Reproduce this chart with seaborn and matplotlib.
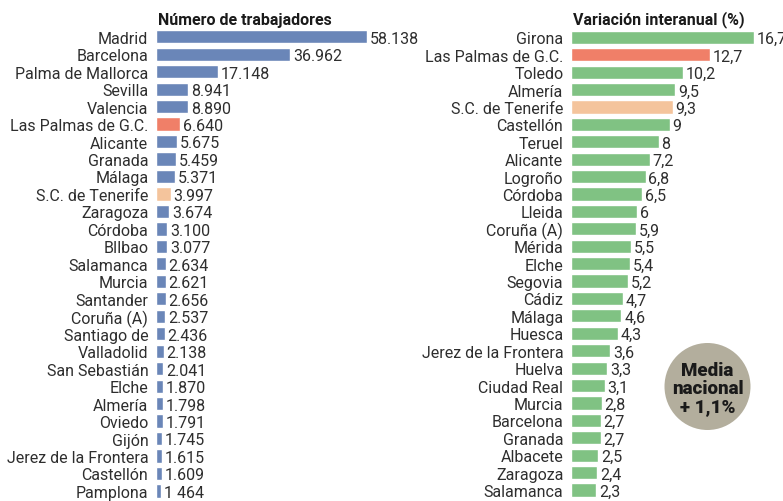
import seaborn as sns
import pandas as pd
import matplotlib.pyplot as plt
from matplotlib.patches import Ellipse

sns.set_style("white")
plt.rcParams['font.family'] = ['Roboto', 'DejaVu Sans']

# Left panel: number of workers
cities_left = ["Madrid", "Barcelona", "Palma de Mallorca", "Sevilla", "Valencia",
               "Las Palmas de G.C.", "Alicante", "Granada", "Málaga", "S.C. de Tenerife",
               "Zaragoza", "Córdoba", "BIlbao", "Salamanca", "Murcia", "Santander",
               "Coruña (A)", "Santiago de", "Valladolid", "San Sebastián", "Elche",
               "Almería", "Oviedo", "Gijón", "Jerez de la Frontera", "Castellón", "Pamplona"]
workers = [58138, 36962, 17148, 8941, 8890, 6640, 5675, 5459, 5371, 3997,
           3674, 3100, 3077, 2634, 2621, 2656, 2537, 2436, 2138, 2041, 1870,
           1798, 1791, 1745, 1615, 1609, 1464]
workers_text = ["58.138", "36.962", "17.148", "8.941", "8.890", "6.640", "5.675", "5.459",
                "5.371", "3.997", "3.674", "3.100", "3.077", "2.634", "2.621", "2.656",
                "2.537", "2.436", "2.138", "2.041", "1.870", "1.798", "1.791", "1.745",
                "1.615", "1.609", "1 464"]

# Right panel: year-on-year change (%)
cities_right = ["Girona", "Las Palmas de G.C.", "Toledo", "Almería", "S.C. de Tenerife",
                "Castellón", "Teruel", "Alicante", "Logroño", "Córdoba", "Lleida",
                "Coruña (A)", "Mérida", "Elche", "Segovia", "Cádiz", "Málaga", "Huesca",
                "Jerez de la Frontera", "Huelva", "Ciudad Real", "Murcia", "Barcelona",
                "Granada", "Albacete", "Zaragoza", "Salamanca"]
change = [16.7, 12.7, 10.2, 9.5, 9.3, 9, 8, 7.2, 6.8, 6.5, 6, 5.9, 5.5, 5.4, 5.2,
          4.7, 4.6, 4.3, 3.6, 3.3, 3.1, 2.8, 2.7, 2.7, 2.5, 2.4, 2.3]

BLUE, GREEN = "#6a86b8", "#80c283"
RED, PEACH = "#f07f68", "#f4c49c"
TXT = "#2e2e2e"

def colors_for(cities, base):
    out = {}
    for c in cities:
        if c == "Las Palmas de G.C.":
            out[c] = RED
        elif c == "S.C. de Tenerife":
            out[c] = PEACH
        else:
            out[c] = base
    return out

df_left = pd.DataFrame({"city": cities_left, "value": workers})
df_right = pd.DataFrame({"city": cities_right, "value": change})

W, H = 783, 502
fig = plt.figure(figsize=(W / 100, H / 100), dpi=100)

def px_axes(x0, x1, y0, y1):
    return fig.add_axes([x0 / W, 1 - y1 / H, (x1 - x0) / W, (y1 - y0) / H])

ax1 = px_axes(156, 367, 29.0, 500.7)
ax2 = px_axes(571, 754, 29.6, 499.7)

FS = 11.5
for ax, df, base, xmax, labels in [
        (ax1, df_left, BLUE, 58138, workers_text),
        (ax2, df_right, GREEN, 16.7, [f"{v:g}".replace(".", ",") for v in change])]:
    sns.barplot(data=df, x="value", y="city", hue="city", orient="h",
                palette=colors_for(df["city"], base), legend=False,
                width=0.76, saturation=1, ax=ax)
    ax.set_xlim(0, xmax)
    ax.set_ylim(len(df) - 0.5, -0.5)
    ax.set_xlabel("")
    ax.set_ylabel("")
    ax.set_xticks([])
    ax.tick_params(axis="y", length=0, pad=5.5, labelsize=FS, labelcolor=TXT)
    sns.despine(ax=ax, left=True, bottom=True)
    ax.patch.set_alpha(0)
    # one container per hue level; label each bar
    for cont in ax.containers:
        for bar in cont.patches:
            if bar.get_width() == 0 or pd.isna(bar.get_width()):
                continue
            row = int(round(bar.get_y() + bar.get_height() / 2))
            ax.annotate(labels[row], (bar.get_width(), row),
                        xytext=(2, -1), textcoords="offset points",
                        ha="left", va="center", fontsize=FS, color=TXT,
                        annotation_clip=False)

fig.text(158 / W, 1 - 20 / H, "Número de trabajadores", ha="left", va="center",
         fontsize=11.5, fontweight="bold", color="#1a1a1a")
fig.text(573 / W, 1 - 20 / H, "Variación interanual (%)", ha="left", va="center",
         fontsize=11.5, fontweight="bold", color="#1a1a1a")

# national average badge
circ = Ellipse((707.5 / W, 1 - 387.5 / H), 86 / W, 87 / H,
               transform=fig.transFigure, facecolor="#b3ae9d", edgecolor="none")
fig.patches.append(circ)
fig.text(707.5 / W, 1 - 389 / H, "Media\nnacional\n+ 1,1%", ha="center", va="center",
         fontsize=13.5, fontweight="black", color="#1a1a1a", linespacing=1.0)

fig.savefig("out.png", dpi=100)
